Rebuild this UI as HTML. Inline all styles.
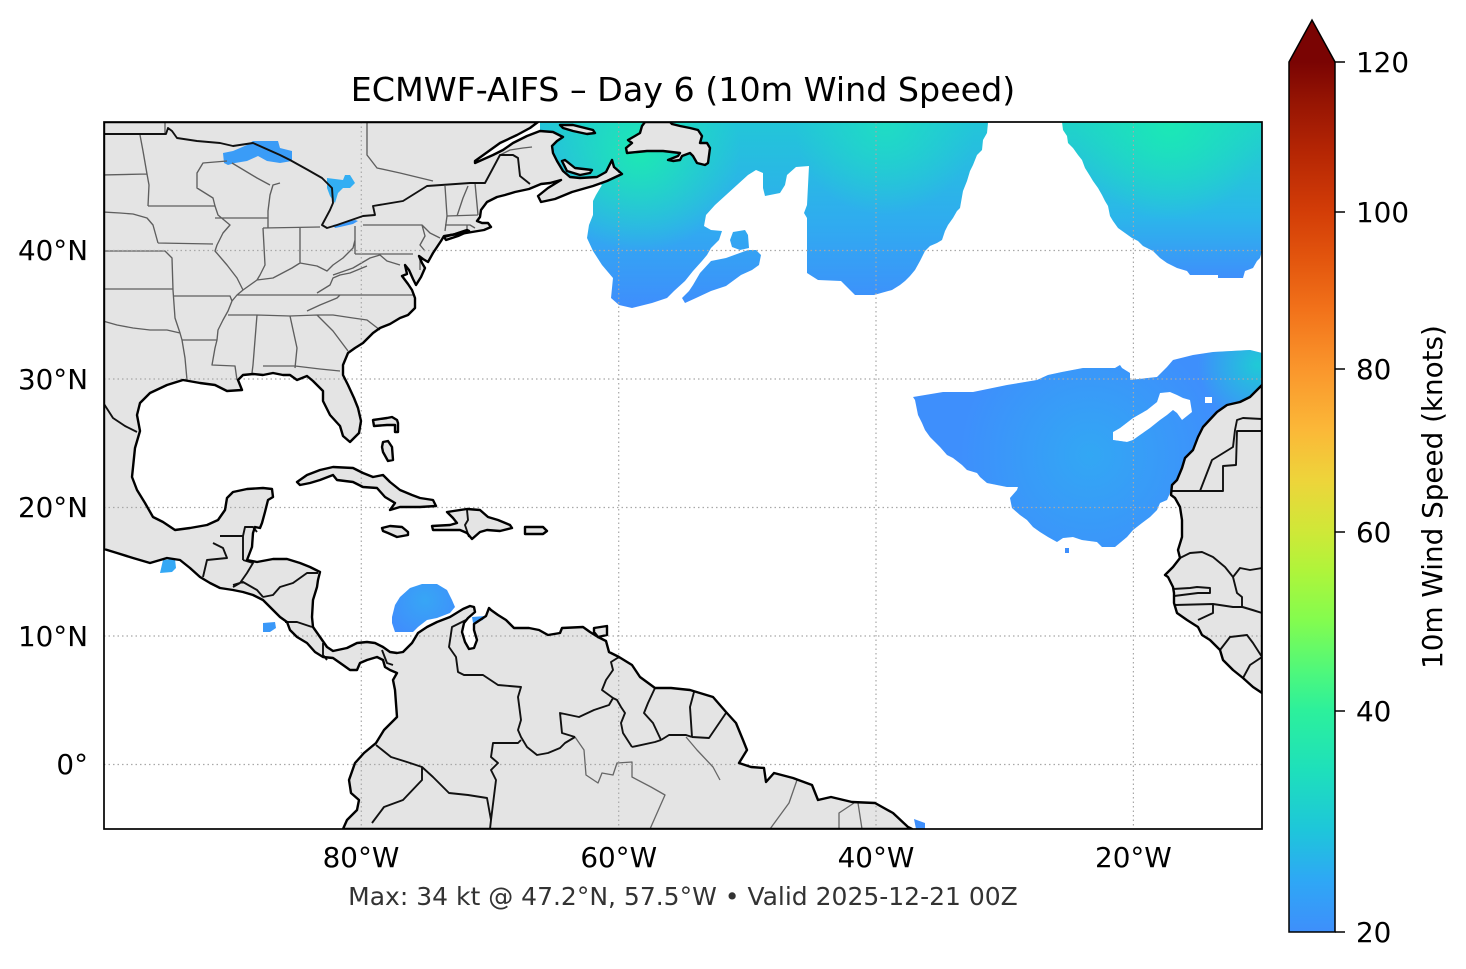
<!DOCTYPE html>
<html><head><meta charset="utf-8"><style>
html,body{margin:0;padding:0;background:#fff;}
svg{display:block;}
text{font-family:"DejaVu Sans","Liberation Sans",sans-serif;fill:#000;}
</style></head><body>
<svg width="1466" height="969" viewBox="0 0 1466 969" xmlns="http://www.w3.org/2000/svg">
<defs>
<clipPath id="ax"><rect x="104" y="122" width="1158" height="707"/></clipPath>
<linearGradient id="cb" x1="0" y1="932" x2="0" y2="62" gradientUnits="userSpaceOnUse">
<stop offset="0" stop-color="#3e8ffb"/><stop offset="0.06" stop-color="#2ea8f5"/><stop offset="0.117" stop-color="#1ec6da"/><stop offset="0.186" stop-color="#1ee0bb"/><stop offset="0.254" stop-color="#2cf09c"/><stop offset="0.301" stop-color="#50f87a"/><stop offset="0.359" stop-color="#84fc4e"/><stop offset="0.416" stop-color="#b0f43a"/><stop offset="0.46" stop-color="#cfe838"/><stop offset="0.52" stop-color="#eed43a"/><stop offset="0.577" stop-color="#fbb838"/><stop offset="0.647" stop-color="#fa962c"/><stop offset="0.715" stop-color="#f2721a"/><stop offset="0.772" stop-color="#e3560e"/><stop offset="0.828" stop-color="#d33d07"/><stop offset="0.899" stop-color="#b42504"/><stop offset="0.956" stop-color="#951403"/><stop offset="1" stop-color="#7a0403"/>
</linearGradient>
<linearGradient id="g1" x1="0" y1="122" x2="0" y2="310" gradientUnits="userSpaceOnUse"><stop offset="0" stop-color="#22c6d8"/><stop offset="0.55" stop-color="#30abf0"/><stop offset="1" stop-color="#3f8dfd"/></linearGradient>
<radialGradient id="r1" cx="640" cy="152" r="100" gradientUnits="userSpaceOnUse"><stop offset="0" stop-color="#1de8b4"/><stop offset="1" stop-color="#1de8b4" stop-opacity="0"/></radialGradient>
<radialGradient id="r2" cx="885" cy="125" r="90" gradientUnits="userSpaceOnUse"><stop offset="0" stop-color="#1fdcc4"/><stop offset="1" stop-color="#1fdcc4" stop-opacity="0"/></radialGradient>
<linearGradient id="g2" x1="0" y1="122" x2="0" y2="280" gradientUnits="userSpaceOnUse"><stop offset="0" stop-color="#1fd4c8"/><stop offset="0.6" stop-color="#2bb6ea"/><stop offset="1" stop-color="#3f8efc"/></linearGradient>
<radialGradient id="r3" cx="1170" cy="125" r="95" gradientUnits="userSpaceOnUse"><stop offset="0" stop-color="#1be8b6"/><stop offset="1" stop-color="#1be8b6" stop-opacity="0"/></radialGradient>
<radialGradient id="r4" cx="1090" cy="455" r="130" gradientUnits="userSpaceOnUse"><stop offset="0" stop-color="#31aaf3" stop-opacity="0.9"/><stop offset="1" stop-color="#31aaf3" stop-opacity="0"/></radialGradient>
<radialGradient id="r5" cx="1258" cy="365" r="60" gradientUnits="userSpaceOnUse"><stop offset="0" stop-color="#1fcad6"/><stop offset="1" stop-color="#1fcad6" stop-opacity="0"/></radialGradient>
<radialGradient id="r6" cx="425" cy="600" r="38" gradientUnits="userSpaceOnUse"><stop offset="0" stop-color="#37a6f5"/><stop offset="1" stop-color="#3f8ffc"/></radialGradient>

<path id="w1" d="M540,122 L987,122 L988,123 L987,133 L983,140 L982,150 L977,155 L973,165 L970,171 L967,181 L963,191 L960,208 L957,211 L953,218 L948,225 L945,231 L942,240 L937,243 L930,246 L925,251 L920,261 L915,270 L910,276 L905,281 L900,285 L892,290 L874,295 L855,295 L841,281 L818,280 L807,273 L807,218 L804,213 L807,205 L809,166 L796,167 L787,175 L785,185 L780,193 L765,196 L763,188 L763,173 L756,170 L748,175 L737,185 L726,195 L715,205 L706,215 L704,226 L711,230 L722,231 L719,240 L711,248 L707,255 L702,261 L693,271 L685,281 L674,291 L667,298 L652,303 L632,308 L619,305 L611,298 L613,278 L602,265 L593,251 L587,238 L589,225 L593,215 L593,201 L596,195 L602,185 L590,180 L575,178 L560,172 L548,160 L548,140 L540,131 Z M682,298 L689,291 L693,285 L700,273 L711,261 L726,258 L748,250 L756,250 L761,255 L759,265 L752,270 L741,275 L726,286 L711,291 L696,298 L685,303 Z M733,232 L745,230 L748,235 L749,248 L740,250 L732,247 L730,240 Z"/>
<path id="w2" d="M1062,122 L1262,122 L1262,251 L1260,258 L1257,261 L1253,268 L1245,271 L1243,278 L1218,278 L1218,275 L1190,275 L1187,271 L1177,268 L1167,263 L1160,258 L1153,251 L1143,246 L1138,241 L1132,238 L1125,233 L1118,228 L1113,221 L1110,216 L1108,206 L1105,201 L1102,195 L1098,188 L1093,181 L1090,176 L1085,168 L1082,160 L1078,155 L1073,148 L1068,143 L1067,136 L1063,130 Z"/>
<path id="w3" d="M913,397 L943,392 L973,392 L1007,385 L1037,380 L1048,375 L1062,372 L1083,368 L1115,368 L1120,365 L1122,368 L1130,373 L1130,380 L1157,377 L1167,367 L1173,360 L1193,355 L1213,352 L1250,350 L1262,353 L1262,420 L1200,480 L1172,483 L1170,493 L1167,500 L1160,503 L1157,510 L1150,517 L1142,523 L1133,530 L1127,537 L1115,547 L1102,547 L1097,542 L1082,540 L1073,537 L1063,538 L1057,542 L1048,537 L1040,532 L1033,527 L1027,520 L1020,515 L1012,508 L1010,498 L1017,490 L1018,487 L1007,487 L987,483 L980,477 L977,473 L967,470 L962,465 L953,458 L947,455 L940,447 L935,442 L930,437 L925,430 L922,423 L918,415 L915,400 Z M1113,432 L1120,428 L1133,418 L1147,410 L1157,402 L1160,393 L1170,392 L1177,395 L1183,398 L1190,400 L1192,412 L1182,420 L1177,413 L1173,410 L1167,415 L1160,420 L1150,428 L1140,435 L1133,440 L1127,442 L1113,440 Z M1205,397 L1212,397 L1212,403 L1205,403 Z"/>

<path id="am" d="M104,122 L538,122 L530,128 L517,135 L500,143 L475,161 L475,163 L493,155 L503,150 L513,143 L527,136 L540,131 L553,132 L563,137 L557,141 L552,146 L553,153 L557,161 L563,171 L570,177 L580,178 L597,177 L606,172 L612,160 L614,167 L622,174 L607,181 L593,186 L572,192 L555,199 L541,202 L538,196 L548,188 L561,180 L550,183 L541,184 L529,189 L515,192 L505,195 L497,197 L487,202 L481,210 L480,217 L477,221 L482,223 L488,223 L491,227 L484,230 L472,232 L460,234 L450,235 L444,236 L441,241 L437,247 L433,253 L428,262 L423,259 L419,256 L422,263 L425,268 L421,277 L416,285 L413,279 L409,270 L405,265 L407,274 L402,276 L408,284 L412,290 L415,298 L415,308 L408,315 L400,318 L390,324 L380,328 L373,333 L363,343 L355,348 L348,353 L343,365 L343,375 L348,385 L354,398 L358,408 L361,421 L359,433 L350,442 L343,436 L340,426 L330,415 L323,401 L323,391 L313,381 L307,376 L297,380 L290,375 L283,375 L273,373 L263,375 L253,374 L243,375 L238,380 L242,390 L227,391 L215,385 L200,383 L183,380 L167,385 L150,393 L140,403 L137,415 L140,431 L135,448 L132,477 L137,490 L145,503 L153,517 L163,522 L175,530 L190,528 L207,525 L218,520 L225,510 L227,498 L233,492 L247,489 L263,488 L272,489 L273,497 L268,500 L265,512 L262,523 L260,528 L255,527 L253,533 L252,547 L247,560 L257,562 L273,559 L287,559 L300,563 L310,567 L320,572 L318,580 L317,587 L313,600 L312,617 L313,627 L320,637 L327,647 L333,651 L347,648 L357,643 L367,642 L375,643 L383,647 L390,652 L397,653 L403,652 L412,643 L418,633 L427,627 L437,622 L450,617 L463,609 L470,606 L474,607 L475,612 L468,618 L464,623 L462,632 L465,642 L469,649 L474,648 L477,640 L474,630 L474,624 L480,620 L486,616 L489,608 L491,610 L498,615 L506,620 L514,628 L529,628 L539,630 L548,635 L560,633 L562,628 L583,627 L590,632 L598,637 L606,641 L609,652 L619,657 L632,665 L640,677 L655,688 L671,688 L690,690 L713,697 L726,712 L736,723 L743,740 L747,750 L739,763 L751,767 L764,768 L766,782 L774,773 L793,778 L812,785 L818,800 L831,797 L852,802 L875,803 L893,813 L908,827 L912,829 L343,829 L347,820 L357,810 L359,800 L351,793 L349,780 L355,763 L364,753 L376,743 L384,730 L397,717 L395,690 L393,680 L397,673 L390,670 L385,667 L383,660 L377,657 L367,660 L360,663 L357,670 L350,670 L343,665 L333,658 L323,657 L315,652 L307,643 L297,637 L290,630 L287,622 L280,617 L270,607 L263,600 L253,595 L243,592 L233,590 L220,588 L210,583 L200,577 L190,568 L180,560 L167,558 L150,563 L133,558 L117,553 L104,549 Z"/>
<path id="isl" d="M297,482 L307,475 L320,470 L333,467 L353,468 L363,473 L373,477 L383,475 L390,482 L400,490 L412,495 L420,498 L433,500 L436,506 L420,507 L400,507 L390,510 L395,503 L385,497 L377,488 L363,487 L353,482 L337,480 L333,475 L320,480 L310,483 L300,485 Z M447,512 L467,509 L480,510 L488,517 L498,520 L510,525 L512,528 L500,531 L487,530 L480,532 L472,539 L467,533 L460,530 L433,530 L432,526 L450,525 L457,523 L453,518 Z M382,528 L390,526 L402,527 L408,532 L408,535 L397,537 L388,533 L383,531 Z M525,527 L543,527 L547,531 L543,534 L525,534 Z M373,420 L387,418 L392,417 L397,420 L398,423 L398,432 L395,432 L395,425 L387,425 L374,426 Z M383,442 L388,441 L392,447 L393,460 L388,461 L383,452 L382,447 Z M594,628 L607,626 L607,635 L598,637 L594,632 Z M562,161 L565,160 L575,168 L592,170 L590,173 L580,175 L567,171 Z M560,125 L573,125 L593,130 L595,133 L587,134 L573,131 L563,128 Z M444,237 L455,234 L467,230 L469,231 L458,236 L446,240 Z M627,153 L626,148 L632,143 L628,140 L635,136 L640,133 L642,126 L645,122 L670,122 L672,124 L680,126 L690,128 L698,130 L702,136 L700,143 L707,143 L710,148 L708,163 L705,165 L697,163 L693,156 L690,153 L682,156 L680,160 L673,161 L668,160 L678,156 L680,153 L663,151 L647,151 L637,152 Z"/>
<path id="af" d="M1262,385 L1250,397 L1240,402 L1227,405 L1217,412 L1203,427 L1198,437 L1193,450 L1185,458 L1182,468 L1177,480 L1172,485 L1171,495 L1175,498 L1180,507 L1182,520 L1182,537 L1178,550 L1180,558 L1173,567 L1165,575 L1168,577 L1173,587 L1174,593 L1174,603 L1177,613 L1187,620 L1198,627 L1202,635 L1210,640 L1220,650 L1223,660 L1233,670 L1243,678 L1253,687 L1262,693 Z"/>
</defs>

<g clip-path="url(#ax)">
<use href="#w1" fill="url(#g1)" fill-rule="evenodd"/>
<use href="#w1" fill="url(#r1)" fill-rule="evenodd"/>
<use href="#w1" fill="url(#r2)" fill-rule="evenodd"/>
<use href="#w2" fill="url(#g2)"/>
<use href="#w2" fill="url(#r3)"/>
<use href="#w3" fill="#3e8ffc" fill-rule="evenodd"/>
<use href="#w3" fill="url(#r4)" fill-rule="evenodd"/>
<use href="#w3" fill="url(#r5)" fill-rule="evenodd"/>
<rect x="1065" y="548" width="4" height="5" fill="#3e8ffc"/>

<use href="#am" fill="#e4e4e4"/>
<use href="#isl" fill="#e4e4e4"/>
<use href="#af" fill="#e4e4e4"/>

<path d="M223,153 L233,151 L247,145 L253,141 L278,141 L280,148 L292,151 L292,161 L280,163 L267,161 L258,156 L247,161 L235,163 L228,165 L224,163 Z" fill="#3a9cf7"/>
<path d="M327,178 L343,180 L345,175 L350,175 L355,183 L350,188 L343,188 L338,193 L335,203 L330,196 L327,188 Z" fill="#33aef3"/>
<path d="M333,225 L347,222 L355,220 L358,221 L353,224 L340,227 L335,228 Z" fill="#3a98f8"/>
<path d="M163,560 L175,559 L176,568 L172,572 L160,573 Z" fill="#34a8f5"/>
<path d="M263,623 L275,622 L276,628 L270,632 L263,632 Z" fill="#3a98f8"/>
<path d="M392,617 L395,605 L400,597 L410,588 L422,584 L437,584 L447,590 L452,600 L455,607 L450,613 L437,618 L427,620 L418,627 L413,632 L395,632 L392,623 Z" fill="url(#r6)"/>
<path d="M472,617 L485,616 L483,620 L473,623 Z" fill="#3a98f8"/>
<path d="M914,819 L925,823 L925,829 L916,829 Z" fill="#3e8ffc"/>

<path fill="none" stroke="#5e5e5e" stroke-width="1.35" stroke-linejoin="round" d="M103,175 L147,174 M140,135 L143,151 L147,174 L149,185 L148,206 M103,212 L120,213 L133,214 L147,218 L153,225 L158,243 M148,206 L215,206 M227,161 L203,163 L197,173 L197,188 L213,198 L215,206 L218,215 L230,225 L223,233 L217,245 L215,251 L227,265 L237,278 L243,290 L237,295 L232,301 L228,311 L223,320 L218,330 L217,340 L215,348 L212,365 L235,366 L237,380 M158,243 L213,244 M103,251 L165,251 L172,258 L173,290 L175,318 L180,333 L182,340 L185,358 L187,380 M103,289 L173,289 M103,321 L117,325 L133,328 L150,330 L167,330 L180,333 M173,296 L230,296 L232,301 M182,340 L217,340 M237,295 L340,295 L413,295 M228,315 L257,315 L290,316 L317,315 M257,315 L253,365 L252,373 M290,316 L297,348 L295,368 M263,366 L295,366 L320,369 L340,371 M317,315 L333,331 L348,351 M317,315 L333,315 L353,318 L367,320 L380,330 M307,311 L320,305 L337,298 L340,295 M243,290 L257,280 L273,278 L292,268 L300,263 L317,266 L327,271 L333,265 L343,258 L353,248 L355,240 M317,293 L330,285 L333,278 L340,275 L350,273 L367,266 M333,275 L353,268 L370,258 L380,255 L387,261 L400,265 M355,254 L413,254 M355,226 L355,254 M300,228 L300,263 M263,228 L265,265 L260,275 L257,280 M215,218 L268,218 M263,228 L320,227 M232,163 L257,178 L270,185 M280,183 L273,185 L270,195 L268,211 L268,228 M363,225 L422,225 L430,233 L440,238 M422,225 L425,236 L420,245 L425,251 M445,186 L447,216 L445,231 M457,216 L463,198 L468,186 M475,183 L478,215 M447,216 L478,215 M445,225 L470,225 L475,228 M467,225 L467,231 M420,257 L420,270 M367,122 L367,155 L377,168 L400,173 L433,181 M500,155 L510,150 L523,148 L532,147 M165,122 L165,134"/>
<path fill="none" stroke="#666" stroke-width="1.3" stroke-linejoin="round" d="M575,737 L584,750 L586,775 L598,783 L602,773 L613,775 L617,763 L632,762 L632,777 L651,787 L665,795 L650,829 M686,737 L697,750 L713,767 L720,780 M797,780 L789,803 L770,829 M854,803 L839,813 L839,829 M858,803 L862,829"/>

<g stroke="#a8a8a8" stroke-width="1.2" stroke-dasharray="1.5,3" fill="none">
<path d="M361.3,122 V829 M618.7,122 V829 M876,122 V829 M1133.4,122 V829"/>
<path d="M104,250.5 H1262 M104,379 H1262 M104,507.5 H1262 M104,636 H1262 M104,764.5 H1262"/>
</g>

<path fill="none" stroke="#111" stroke-width="1.9" stroke-linejoin="round" d="M104,134 L166,134 L168,128 L172,131 L177,138 L197,141 L220,143 L233,146 L253,143 L280,155 L290,160 L308,170 L322,178 L332,188 L333,203 L330,210 L322,225 L327,228 L337,225 L363,216 L375,215 L373,206 L403,201 L427,186 L470,183 L485,183 L492,170 L500,155 L513,155 L518,158 L520,176 L530,184 M104,404 L113,418 L125,426 L137,432 M213,543 L223,548 L227,558 L207,560 L203,577 M220,536 L243,536 L243,560 M243,536 L245,527 L253,527 L257,532 M243,560 L253,563 L247,573 L240,583 L233,587 M233,585 L243,582 L257,590 L263,597 M263,597 L273,595 L280,587 L293,583 L307,573 L318,573 M285,622 L297,622 L312,627 M323,643 L323,655 L327,660 M382,650 L387,663 L393,665 M467,510 L468,520 L465,525 L469,537 M466,620 L452,627 L449,647 L456,657 L458,672 L464,675 L483,675 L498,685 L521,687 L518,697 L521,720 L518,730 L521,737 L527,747 L537,755 L548,753 L560,748 L565,743 L575,737 M575,737 L562,733 L560,713 L579,717 L594,710 L609,705 L613,698 L617,700 L621,707 L625,713 L621,723 L623,733 L632,747 M613,698 L602,690 L606,680 L613,670 L611,662 L619,657 M655,688 L648,703 L644,713 L653,723 L661,740 M632,747 L655,742 L661,740 M694,692 L690,707 L692,737 M661,740 L669,735 L686,735 L692,737 M692,737 L709,738 L726,713 M376,745 L391,757 L407,762 L422,767 L433,777 L449,793 L468,795 L487,798 L491,820 L490,829 M422,767 L422,780 L403,800 L384,807 L372,823 M491,820 L496,780 L491,770 L498,763 L491,757 L493,743 L518,743 L521,740 M1172,491 L1223,491 L1223,466 L1236,465 L1237,431 L1262,431 M1200,491 L1212,460 L1233,447 L1235,430 L1237,420 L1243,418 L1262,419 M1180,558 L1190,553 L1202,552 L1213,557 L1225,567 L1233,577 L1240,568 L1250,570 L1262,568 M1233,577 L1237,593 L1242,597 L1242,607 L1262,613 M1173,589 L1190,588 L1197,587 L1210,588 L1210,593 L1198,593 L1190,594 L1174,596 M1175,605 L1213,604 L1233,607 L1243,607 L1253,610 L1262,613 M1213,605 L1213,613 L1198,620 M1220,650 L1230,637 L1247,635 L1253,643 L1262,657 M1262,657 L1250,665 L1243,678"/>

<use href="#am" fill="none" stroke="#000" stroke-width="2.4" stroke-linejoin="round"/>
<use href="#isl" fill="none" stroke="#000" stroke-width="2.4" stroke-linejoin="round"/>
<use href="#af" fill="none" stroke="#000" stroke-width="2.4" stroke-linejoin="round"/>
</g>

<rect x="104" y="122" width="1158" height="707" fill="none" stroke="#000" stroke-width="1.7"/>

<text x="683" y="101" font-size="33.3" text-anchor="middle">ECMWF-AIFS – Day 6 (10m Wind Speed)</text>

<g font-size="27.8" text-anchor="end">
<text x="88" y="260">40°N</text>
<text x="88" y="389">30°N</text>
<text x="88" y="517">20°N</text>
<text x="88" y="646">10°N</text>
<text x="88" y="774">0°</text>
</g>
<g font-size="27.8" text-anchor="middle">
<text x="361" y="867">80°W</text>
<text x="618.7" y="867">60°W</text>
<text x="876" y="867">40°W</text>
<text x="1133.4" y="867">20°W</text>
</g>

<text x="683" y="905" font-size="25" text-anchor="middle" style="fill:#333">Max: 34 kt @ 47.2°N, 57.5°W • Valid 2025-12-21 00Z</text>

<rect x="1289" y="62" width="46" height="870" fill="url(#cb)"/>
<polygon points="1289,62 1312,20 1335,62" fill="#7a0403"/>
<path d="M1289,932 L1289,62 L1312,20 L1335,62 L1335,932 Z" fill="none" stroke="#000" stroke-width="1.5" stroke-linejoin="miter"/>
<g stroke="#000" stroke-width="1.5">
<line x1="1335" y1="62" x2="1345" y2="62"/>
<line x1="1335" y1="212" x2="1345" y2="212"/>
<line x1="1335" y1="369" x2="1345" y2="369"/>
<line x1="1335" y1="532" x2="1345" y2="532"/>
<line x1="1335" y1="711" x2="1345" y2="711"/>
<line x1="1335" y1="932" x2="1345" y2="932"/>
</g>
<g font-size="27.8">
<text x="1356" y="72">120</text>
<text x="1356" y="222">100</text>
<text x="1356" y="379">80</text>
<text x="1356" y="542">60</text>
<text x="1356" y="721">40</text>
<text x="1356" y="942">20</text>
</g>
<text transform="translate(1442,497) rotate(-90)" font-size="27.8" text-anchor="middle">10m Wind Speed (knots)</text>
</svg>
</body></html>
